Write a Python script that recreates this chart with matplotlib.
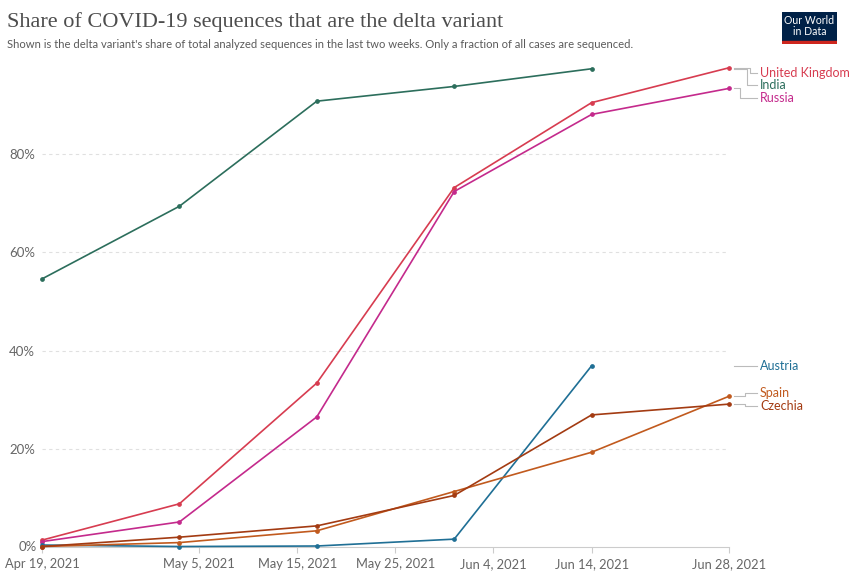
import pandas as pd
import matplotlib
matplotlib.use('Agg')
import matplotlib.pyplot as plt
import matplotlib.transforms as mtrans

plt.rcParams['font.family'] = ['Lato', 'DejaVu Sans']

# dates of the biweekly samples
dates = pd.to_datetime(['2021-04-19', '2021-05-03', '2021-05-17',
                        '2021-05-31', '2021-06-14', '2021-06-28'])

# delta share (%) per country
india = [54.6, 69.4, 90.8, 93.8, 97.4]
uk = [1.4, 8.8, 33.4, 73.2, 90.5, 97.6]
russia = [1.1, 5.1, 26.5, 72.4, 88.1, 93.4]
austria = [0.4, 0.1, 0.2, 1.6, 36.9]
spain = [0.1, 0.9, 3.3, 11.3, 19.3, 30.7]
czechia = [0.1, 2.0, 4.3, 10.5, 26.9, 29.1]

series = [
    ('United Kingdom', uk, '#d73c50', 96.5),
    ('India', india, '#2c6e5c', 94.1),
    ('Russia', russia, '#c42a8c', 91.4),
    ('Austria', austria, '#1f6f95', 36.9),
    ('Spain', spain, '#c15a1e', 31.4),
    ('Czechia', czechia, '#a33b12', 28.7),
]

tick_dates = pd.to_datetime(['2021-04-19', '2021-05-05', '2021-05-15', '2021-05-25',
                             '2021-06-04', '2021-06-14', '2021-06-28'])
tick_labels = ['Apr 19, 2021', 'May 5, 2021', 'May 15, 2021', 'May 25, 2021',
               'Jun 4, 2021', 'Jun 14, 2021', 'Jun 28, 2021']

W, H = 849, 575
fig = plt.figure(figsize=(W / 100, H / 100), dpi=100)
ax = fig.add_axes([42 / W, 28 / H, (729 - 42) / W, 491 / H])

for name, vals, col, ly in series:
    ax.plot(dates[:len(vals)], vals, color=col, lw=1.2, marker='o', ms=2.4,
            clip_on=False, zorder=3)

ax.set_xlim(dates[0], dates[-1])
ax.set_ylim(0, 100)
ax.set_yticks([20, 40, 60, 80])
ax.set_yticklabels(['20%', '40%', '60%', '80%'])
ax.yaxis.grid(True, color='#e0e0e0', ls=(0, (3, 3)), lw=0.8)
ax.set_xticks(tick_dates)
ax.set_xticklabels(tick_labels)
ax.tick_params(axis='y', length=0, labelsize=9.5, labelcolor='#666666', pad=5)
ax.tick_params(axis='x', length=4, color='#cccccc', labelsize=9.3,
               labelcolor='#666666', pad=4)
for s in ['top', 'right', 'left']:
    ax.spines[s].set_visible(False)
ax.spines['bottom'].set_color('#cccccc')
ax.text(-0.008, 0, '0%', transform=ax.get_yaxis_transform(), ha='right',
        va='center', fontsize=9.5, color='#666666')

# right-hand labels with connector lines
tr = mtrans.blended_transform_factory(ax.transAxes, ax.transData)
def px(x):
    return (x - 42) / (729 - 42)
elbows = {'United Kingdom': 750, 'India': 747, 'Russia': 740,
          'Austria': 745, 'Spain': 745, 'Czechia': 745}
for name, vals, col, ly in series:
    v = vals[-1]
    xe = px(elbows[name])
    ax.plot([px(734), xe, xe, px(757)], [v, v, ly, ly], color='#bbbbbb',
            lw=0.8, transform=tr, clip_on=False)
    ax.text(px(760), ly, name, transform=tr, color=col, fontsize=9,
            va='center', ha='left')

fig.text(7 / W, 1 - 22 / H, 'Share of COVID-19 sequences that are the delta variant',
         family=['Liberation Serif', 'DejaVu Serif'], fontsize=16,
         color='#4d4d4d', va='center')
fig.text(7 / W, 1 - 44 / H, "Shown is the delta variant's share of total analyzed "
         "sequences in the last two weeks. Only a fraction of all cases are sequenced.",
         fontsize=8.15, color='#5b5b5b', va='center')

# logo
lax = fig.add_axes([782 / W, 1 - 44 / H, 55 / W, 32 / H])
lax.set_xlim(0, 1)
lax.set_ylim(0, 1)
lax.axis('off')
lax.add_patch(plt.Rectangle((0, 0.1), 1, 0.9, color='#002147'))
lax.add_patch(plt.Rectangle((0, 0), 1, 0.1, color='#ce261e'))
lax.text(0.5, 0.56, 'Our World\nin Data', color='white', fontsize=7.6,
         ha='center', va='center', linespacing=1.0)

fig.savefig('out.png', dpi=100)
